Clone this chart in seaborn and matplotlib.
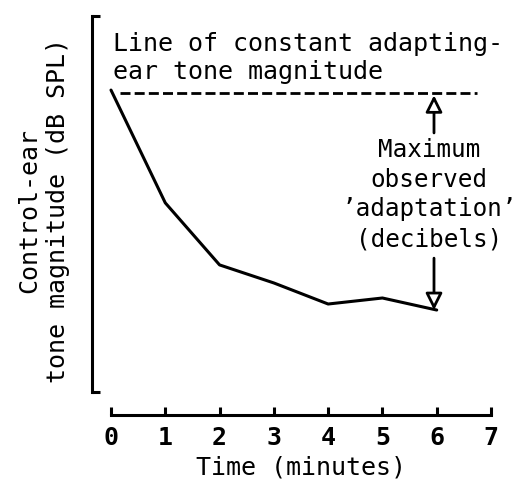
import matplotlib
matplotlib.use("Agg")
import matplotlib.pyplot as plt
import seaborn as sns
import pandas as pd

# ---- data ----
time_min = [0, 1, 2, 3, 4, 5, 6]
control_level = [80.3, 50.3, 33.8, 29.0, 23.4, 25.0, 21.8]   # arbitrary dB scale
constant_level = 79.5
x_ticks = [0, 1, 2, 3, 4, 5, 6, 7]
x_tick_labels = ["0", "1", "2", "3", "4", "5", "6", "7"]

header_text = "Line of constant adapting-\near tone magnitude"
annot_text = "Maximum\nobserved\n\u2019adaptation\u2019\n(decibels)"
y_label = "Control-ear\ntone magnitude (dB SPL)"
x_label = "Time (minutes)"

sns.set_style("ticks")
plt.rcParams["font.family"] = ["DejaVu Sans Mono", "DejaVu Sans"]
plt.rcParams["text.color"] = "black"
plt.rcParams["xtick.color"] = "black"
plt.rcParams["ytick.color"] = "black"
plt.rcParams["axes.edgecolor"] = "black"

W, H = 518, 484
fig = plt.figure(figsize=(W / 100, H / 100), dpi=100)
ax = fig.add_axes([111 / W, 1 - 392 / H, 380 / W, 376 / H])

df = pd.DataFrame({"time": time_min, "level": control_level})
sns.lineplot(data=df, x="time", y="level", ax=ax, color="black", linewidth=2.2,
             clip_on=False)

ax.hlines(constant_level, 0.17, 6.75, colors="black", linewidth=2.0,
          linestyles=(0, (3.6, 1.5)))

ax.set_xlim(0, 7)
ax.set_ylim(0, 100)

# spines
for s in ["top", "right"]:
    ax.spines[s].set_visible(False)
ax.spines["left"].set_position(("outward", 13.7))
ax.spines["bottom"].set_position(("outward", 16.6))
ax.spines["left"].set_linewidth(2.2)
ax.spines["bottom"].set_linewidth(2.2)

ax.set_xticks(x_ticks)
ax.set_xticklabels(x_tick_labels, fontsize=18, fontweight="bold")
ax.set_yticks([0, 100])
ax.set_yticklabels([])
ax.tick_params(axis="both", direction="in", length=5.8, width=2.2, color="black")
ax.tick_params(axis="x", pad=8, labelcolor="black")
ax.set_xlabel("")
ax.set_ylabel("")

# arrows
ax_x = time_min[-1] - 0.05
arrow_kw = dict(arrowstyle="-|>,head_length=0.5,head_width=0.25", fc="white",
                ec="black", lw=2.0, shrinkA=0, shrinkB=0, mutation_scale=20)
ax.annotate("", xy=(ax_x, constant_level - 0.6), xytext=(ax_x, 68.9), arrowprops=arrow_kw)
ax.annotate("", xy=(ax_x, control_level[-1]), xytext=(ax_x, 35.6), arrowprops=arrow_kw)

ax.text(5.86, 52.5, annot_text, ha="center", va="center", fontsize=17.5,
        linespacing=1.3, color="black")

fig.text(113 / W, 1 - 32 / H, header_text, ha="left", va="top", fontsize=18,
         linespacing=1.2, color="black")
fig.text(44 / W, 1 - 211 / H, y_label, ha="center", va="center", rotation=90,
         fontsize=18, multialignment="center", linespacing=1.25, color="black")
fig.text(301 / W, 1 - 468 / H, x_label, ha="center", va="center", fontsize=18,
         color="black")

fig.savefig("out.png", dpi=100, facecolor="white")
